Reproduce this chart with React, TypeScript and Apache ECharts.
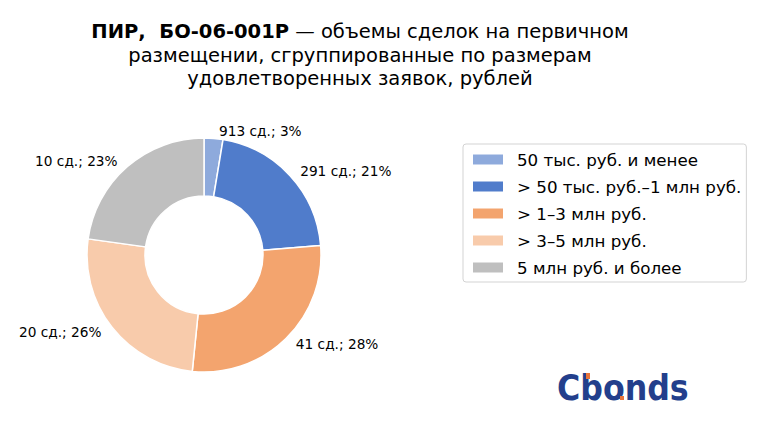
import React, { useEffect, useRef } from "react";
import * as echarts from "echarts";

const categories = [
  "50 тыс. руб. и менее",
  "> 50 тыс. руб.–1 млн руб.",
  "> 1–3 млн руб.",
  "> 3–5 млн руб.",
  "5 млн руб. и более",
];
const shares = [2.6, 21.1, 27.9, 25.6, 22.8];
const deals = [913, 291, 41, 20, 10];
const colors = ["#8eaadc", "#507ccb", "#f3a46e", "#f8cbab", "#bfbfbf"];

export default function App() {
  const ref = useRef<HTMLDivElement>(null);
  useEffect(() => {
    document.body.style.margin = "0";
    const chart = echarts.init(ref.current!, undefined, { renderer: "svg" });
    chart.setOption({
      animation: false,
      backgroundColor: "#ffffff",
      title: {
        text:
          "{b|ПИР,  БО-06-001Р} — объемы сделок на первичном\nразмещении, сгруппированные по размерам\nудовлетворенных заявок, рублей",
        left: 355,
        top: 15,
        textAlign: "center",
        textStyle: {
          fontFamily: "DejaVu Sans",
          fontSize: 19.5,
          fontWeight: "normal",
          color: "#000000",
          lineHeight: 23.5,
          rich: {
            b: {
              fontFamily: "DejaVu Sans",
              fontSize: 19.5,
              fontWeight: "bold",
              color: "#000000",
              lineHeight: 23.5,
            },
          },
        },
      },
      legend: {
        orient: "vertical",
        left: 463,
        top: 144,
        itemWidth: 32,
        itemHeight: 12,
        itemGap: 8,
        padding: [6, 5, 5, 8],
        borderColor: "#d3d3d3",
        borderWidth: 1,
        borderRadius: 3,
        icon: "rect",
        data: categories,
        textStyle: {
          fontFamily: "DejaVu Sans",
          fontSize: 16.7,
          color: "#000000",
          padding: [0, 0, 0, 8],
          lineHeight: 19,
        },
      },
      graphic: [
        {
          type: "text",
          x: 557,
          y: 370,
          scaleX: 0.88,
          style: {
            text: "Cbonds",
            fontFamily: "DejaVu Sans",
            fontWeight: "bold",
            fontSize: 36,
            fill: "#233f8c",
          },
        },
        {
          type: "rect",
          shape: { x: 586, y: 373, width: 4, height: 6 },
          style: { fill: "#e8743b" },
        },
        {
          type: "rect",
          shape: { x: 620, y: 396, width: 4, height: 4 },
          style: { fill: "#e8743b" },
        },
      ],
      series: [
        {
          type: "pie",
          center: [204, 255],
          radius: [59, 117],
          startAngle: 90,
          clockwise: true,
          color: colors,
          itemStyle: { borderColor: "#ffffff", borderWidth: 1.5 },
          label: {
            show: true,
            position: "outside",
            fontFamily: "DejaVu Sans",
            fontSize: 13.7,
            color: "#000000",
            formatter: (p: any) => `${deals[p.dataIndex]} сд.; ${Math.round(p.percent)}%`,
          },
          labelLine: { show: false, length: 7, length2: 0 },
          emphasis: { disabled: true },
          data: categories.map((c, i) => ({ name: c, value: shares[i] })),
        },
      ],
    });
    return () => chart.dispose();
  }, []);
  return <div ref={ref} style={{ width: 766, height: 421 }} />;
}
